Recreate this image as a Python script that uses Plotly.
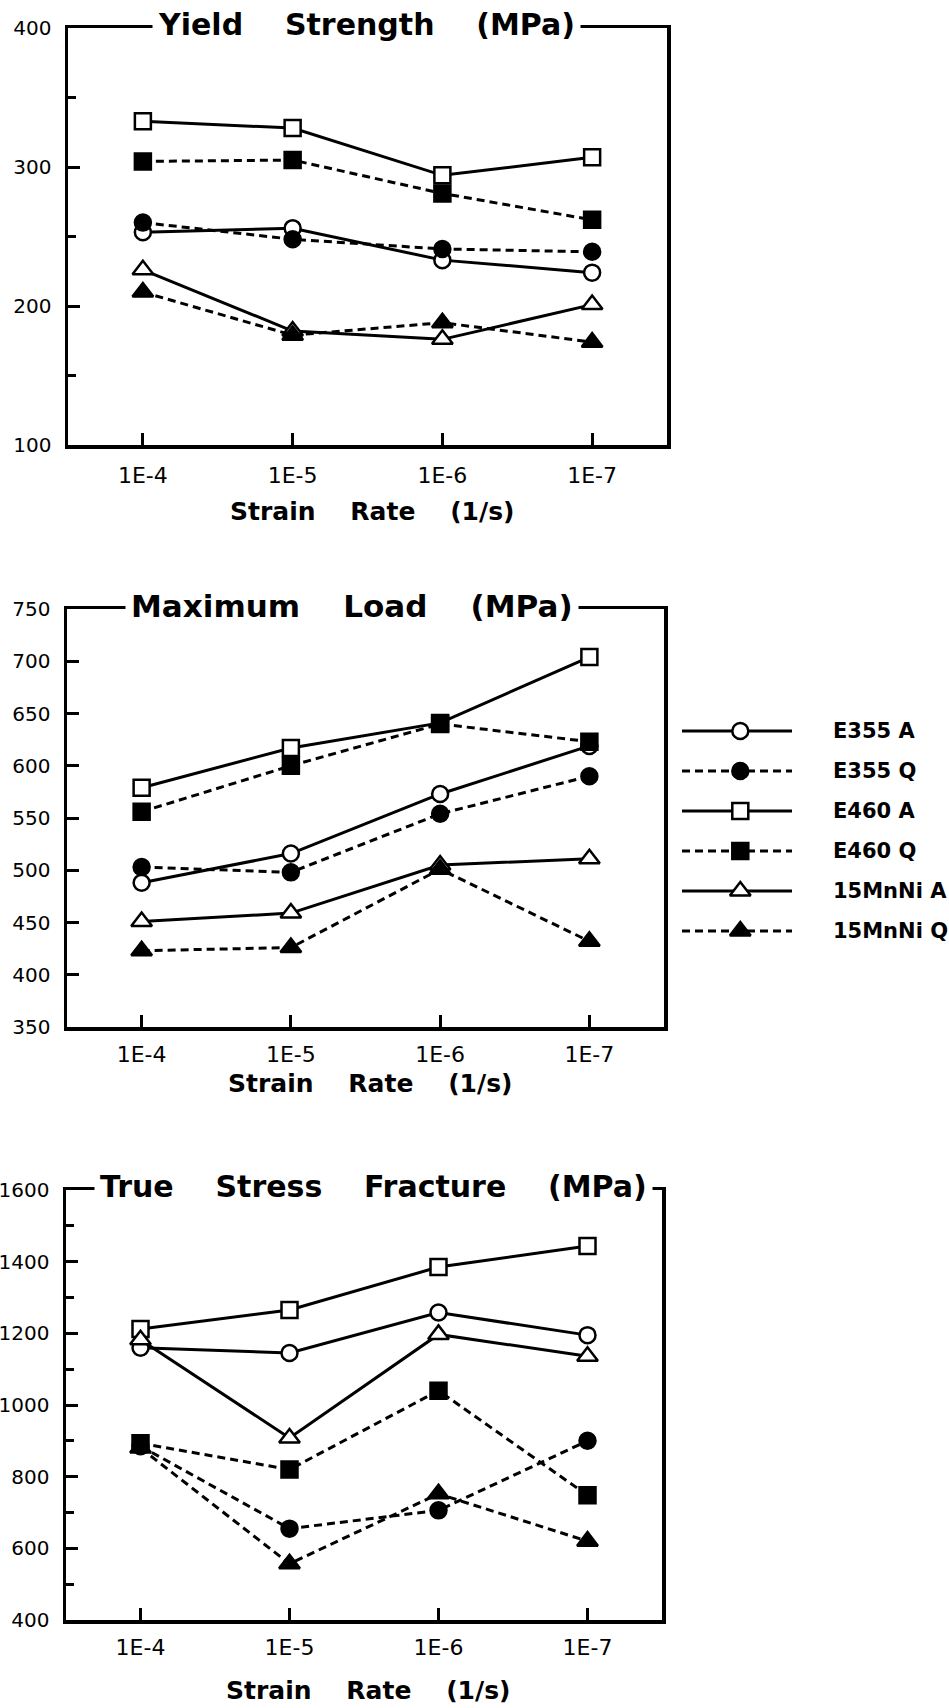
import plotly.graph_objects as go

# ---------------- data ----------------
categories = ["1E-4", "1E-5", "1E-6", "1E-7"]
series_names = ["E355 A", "E355 Q", "E460 A", "E460 Q", "15MnNi A", "15MnNi Q"]

# Yield Strength (MPa)
ys_e355_a = [253, 256, 233, 224]
ys_e355_q = [260, 248, 241, 239]
ys_e460_a = [333, 328, 294, 307]
ys_e460_q = [304, 305, 281, 262]
ys_15mnni_a = [226, 182, 176, 201]
ys_15mnni_q = [210, 179, 188, 174]

# Maximum Load (MPa)
ml_e355_a = [488, 516, 573, 619]
ml_e355_q = [503, 498, 554, 590]
ml_e460_a = [579, 617, 641, 704]
ml_e460_q = [556, 600, 640, 623]
ml_15mnni_a = [451, 459, 505, 511]
ml_15mnni_q = [423, 426, 501, 432]

# True Stress Fracture (MPa)
tsf_e355_a = [1160, 1145, 1258, 1195]
tsf_e355_q = [885, 655, 706, 900]
tsf_e460_a = [1212, 1265, 1385, 1444]
tsf_e460_q = [893, 820, 1040, 748]
tsf_15mnni_a = [1182, 908, 1197, 1136]
tsf_15mnni_q = [880, 557, 752, 620]

panel_titles = ["Yield Strength (MPa)", "Maximum Load (MPa)", "True Stress Fracture (MPa)"]
x_title = "Strain Rate (1/s)"

panels = [
    [ys_e355_a, ys_e355_q, ys_e460_a, ys_e460_q, ys_15mnni_a, ys_15mnni_q],
    [ml_e355_a, ml_e355_q, ml_e460_a, ml_e460_q, ml_15mnni_a, ml_15mnni_q],
    [tsf_e355_a, tsf_e355_q, tsf_e460_a, tsf_e460_q, tsf_15mnni_a, tsf_15mnni_q],
]

# ---------------- styling ----------------
W, H = 949, 1708
NB = "\u00a0"
FONT = "DejaVu Sans"

styles = [
    dict(symbol="circle", fill="white", dash="solid", size=16),
    dict(symbol="circle", fill="black", dash="8px,5px", size=16),
    dict(symbol="square", fill="white", dash="solid", size=16),
    dict(symbol="square", fill="black", dash="8px,5px", size=16),
    dict(symbol="triangle-up", fill="white", dash="solid", size=18),
    dict(symbol="triangle-up", fill="black", dash="8px,5px", size=18),
]

# pixel boxes (left, right, top, bottom)
boxes = [(68, 667, 28, 445), (67, 664, 609, 1027), (66, 662, 1190, 1620)]
yranges = [(100, 400), (350, 750), (400, 1600)]
ydticks = [100, 50, 200]
yminor = [50, None, 100]
xlab_standoff = [8, 5, 5]
title_cx = [366, 352, 373]
title_shift = [4, 3, 4]
xtitle_cy = [511, 1083, 1690]
title_sizes = [30, 31, 30]


def px_x(v):
    return v / W


def px_y(v):
    return 1 - v / H


fig = go.Figure()

for p, series in enumerate(panels):
    ax = "" if p == 0 else str(p + 1)
    for name, vals, st in zip(series_names, series, styles):
        fig.add_trace(go.Scatter(
            x=list(range(len(categories))), y=vals, name=name,
            mode="lines+markers", showlegend=False,
            xaxis="x" + ax, yaxis="y" + ax,
            line=dict(color="black", width=3, dash=st["dash"]),
            marker=dict(symbol=st["symbol"], size=st["size"], color=st["fill"],
                        line=dict(color="black", width=2.5)),
        ))
    l, r, t, b = boxes[p]
    xa = dict(
        domain=[px_x(l), px_x(r)], range=[-0.5, len(categories) - 0.5],
        tickmode="array", tickvals=list(range(len(categories))), ticktext=categories,
        ticks="inside", ticklen=12, tickwidth=3, tickcolor="black",
        showline=True, mirror=True, linewidth=3.5, linecolor="black",
        showgrid=False, zeroline=False, anchor="y" + ax, automargin=False,
        tickfont=dict(family=FONT, size=22, color="black"),
        ticklabelstandoff=xlab_standoff[p],
    )
    ya = dict(
        domain=[px_y(b), px_y(t)], range=list(yranges[p]), dtick=ydticks[p],
        tick0=yranges[p][0],
        ticks="inside", ticklen=12, tickwidth=3, tickcolor="black",
        showline=True, mirror=True, linewidth=3.5, linecolor="black",
        showgrid=False, zeroline=False, anchor="x" + ax, automargin=False,
        tickfont=dict(family=FONT, size=20, color="black"),
        ticklabelstandoff=9,
    )
    if yminor[p]:
        ya["minor"] = dict(dtick=yminor[p], tick0=yranges[p][0], ticks="inside",
                           ticklen=8, tickwidth=3, tickcolor="black", showgrid=False)
    fig.update_layout(**{"xaxis" + ax: xa, "yaxis" + ax: ya})

    # panel title sitting on the top border
    fig.add_annotation(
        text=(NB * 4).join(panel_titles[p].split(" ")),
        xref="paper", yref="paper", x=px_x(title_cx[p]), y=px_y(t),
        xanchor="center", yanchor="middle", yshift=title_shift[p],
        showarrow=False, bgcolor="white", borderpad=5,
        font=dict(family=FONT, size=title_sizes[p], color="black", weight="bold"),
    )
    # x-axis title
    fig.add_annotation(
        text=(NB * 4).join(x_title.split(" ")),
        xref="paper", yref="paper", x=px_x((l + r) / 2 + 4), y=px_y(xtitle_cy[p]),
        xanchor="center", yanchor="middle", showarrow=False,
        font=dict(family=FONT, size=25, color="black", weight="bold"),
    )

# ---------------- legend (drawn on its own hidden axis) ----------------
leg_l, leg_r, leg_t, leg_b = 682, 792, 711, 951
fig.update_layout(
    xaxis4=dict(domain=[px_x(leg_l), px_x(leg_r)], range=[0, 1], visible=False,
                anchor="y4", fixedrange=True, automargin=False),
    yaxis4=dict(domain=[px_y(leg_b), px_y(leg_t)],
                range=[len(series_names) - 0.5, -0.5], visible=False,
                anchor="x4", fixedrange=True, automargin=False),
)
for i, (name, st) in enumerate(zip(series_names, styles)):
    fig.add_trace(go.Scatter(
        x=[0, 1], y=[i, i], mode="lines", showlegend=False, hoverinfo="skip",
        xaxis="x4", yaxis="y4",
        line=dict(color="black", width=3, dash=st["dash"]),
    ))
    fig.add_trace(go.Scatter(
        x=[0.53], y=[i], mode="markers", showlegend=False, name=name,
        xaxis="x4", yaxis="y4",
        marker=dict(symbol=st["symbol"], size=st["size"], color=st["fill"],
                    line=dict(color="black", width=2.5)),
    ))
    fig.add_annotation(
        text=name, xref="paper", yref="y4", x=px_x(831), y=i,
        xanchor="left", yanchor="middle", showarrow=False,
        font=dict(family=FONT, size=21, color="black", weight="bold"),
    )

fig.update_layout(
    width=W, height=H, margin=dict(l=0, r=0, t=0, b=0, autoexpand=False),
    paper_bgcolor="white", plot_bgcolor="white", showlegend=False,
)

fig.write_html(
    "out.html",
    config={"displayModeBar": False, "staticPlot": True},
    post_script="document.body.style.margin='0px';"
                "document.documentElement.style.margin='0px';"
                "document.body.style.overflow='hidden';",
)
